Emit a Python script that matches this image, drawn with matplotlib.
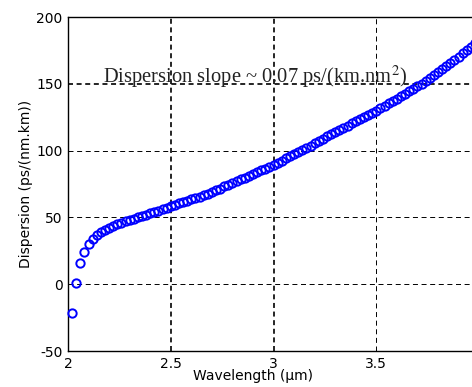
import matplotlib
matplotlib.use("Agg")
import matplotlib.pyplot as plt

wavelength = [2.02, 2.04, 2.06, 2.08, 2.10, 2.12, 2.14, 2.16, 2.18, 2.20,
              2.22, 2.24, 2.26, 2.28, 2.30, 2.32, 2.34, 2.36, 2.38, 2.40,
              2.42, 2.44, 2.46, 2.48, 2.50, 2.52, 2.54, 2.56, 2.58, 2.60,
              2.62, 2.64, 2.66, 2.68, 2.70, 2.72, 2.74, 2.76, 2.78, 2.80,
              2.82, 2.84, 2.86, 2.88, 2.90, 2.92, 2.94, 2.96, 2.98, 3.00,
              3.02, 3.04, 3.06, 3.08, 3.10, 3.12, 3.14, 3.16, 3.18, 3.20,
              3.22, 3.24, 3.26, 3.28, 3.30, 3.32, 3.34, 3.36, 3.38, 3.40,
              3.42, 3.44, 3.46, 3.48, 3.50, 3.52, 3.54, 3.56, 3.58, 3.60,
              3.62, 3.64, 3.66, 3.68, 3.70, 3.72, 3.74, 3.76, 3.78, 3.80,
              3.82, 3.84, 3.86, 3.88, 3.90, 3.92, 3.94, 3.96, 3.98]
dispersion = [-21.5, 1.0, 16.0, 24.0, 30.0, 34.0, 37.0, 39.0, 40.5, 42.0,
              43.5, 45.0, 46.0, 47.0, 48.0, 49.0, 50.0, 51.0, 52.0, 53.0,
              54.0, 55.0, 56.0, 57.0, 58.5, 59.5, 60.5, 61.5, 62.5, 63.5,
              64.5, 65.5, 66.5, 67.6, 68.8, 70.2, 71.6, 73.2, 74.5, 75.8,
              77.1, 78.4, 79.7, 81.0, 82.4, 83.8, 85.2, 86.6, 88.0, 89.5,
              91.0, 92.6, 94.2, 95.8, 97.4, 99.0, 100.6, 102.2, 103.8, 105.5,
              107.2, 109.0, 110.7, 112.3, 114.0, 115.6, 117.2, 118.8, 120.4, 122.0,
              123.6, 125.2, 126.8, 128.4, 130.0, 131.8, 133.6, 135.4, 137.2, 139.0,
              140.8, 142.6, 144.5, 146.4, 148.3, 150.2, 152.3, 154.4, 156.5, 158.7,
              160.9, 163.2, 165.5, 167.8, 170.2, 172.7, 175.2, 177.8, 180.4]

xticks = [2, 2.5, 3, 3.5]
xticklabels = ["2", "2.5", "3", "3.5"]
yticks = [-50, 0, 50, 100, 150, 200]
yticklabels = ["-50", "0", "50", "100", "150", "200"]

plt.rcParams['lines.scale_dashes'] = False
plt.rcParams['mathtext.fontset'] = 'stix'

fig = plt.figure(figsize=(4.72, 3.87), dpi=100)
ax = fig.add_axes([0.144, 0.093, 0.871, 0.863])
ax.set_xlim(2, 4)
ax.set_ylim(-50, 200)

dash = (0, (3.6, 2.6))
thick = {150: 1.2, 2.5: 1.2, 3: 1.2}
for y in [0, 50, 100, 150]:
    ax.axhline(y, color='black', lw=thick.get(y, 0.7), linestyle=dash, zorder=1)
for x in [2.5, 3, 3.5]:
    ax.axvline(x, color='black', lw=thick.get(x, 0.7), linestyle=dash, zorder=1)

ax.plot(wavelength, dispersion, linestyle='none', marker='o', markersize=6,
        markerfacecolor='none', markeredgecolor='#0000ff', markeredgewidth=1.4,
        zorder=3, clip_on=False)

ax.set_xticks(xticks)
ax.set_xticklabels(xticklabels)
ax.set_yticks(yticks)
ax.set_yticklabels(yticklabels)
ax.tick_params(direction='in', length=0, labelsize=10, pad=4)
for s in ['left', 'top', 'bottom', 'right']:
    ax.spines[s].set_linewidth(1.0)

ax.set_xlabel("Wavelength (\u03bcm)", fontsize=10, labelpad=0)
ax.set_ylabel("Dispersion (ps/(nm.km))", fontsize=10, labelpad=2)
ax.xaxis.set_label_coords((253 - 68) / (0.871 * 472), -0.055)

ax.text(2.17, 151, r"Dispersion slope ~ 0.07 ps/(km.nm$^2$)",
        family='Liberation Serif', fontsize=14.8, color='#222222',
        ha='left', va='baseline', zorder=4)

fig.savefig("out.png", dpi=100)
